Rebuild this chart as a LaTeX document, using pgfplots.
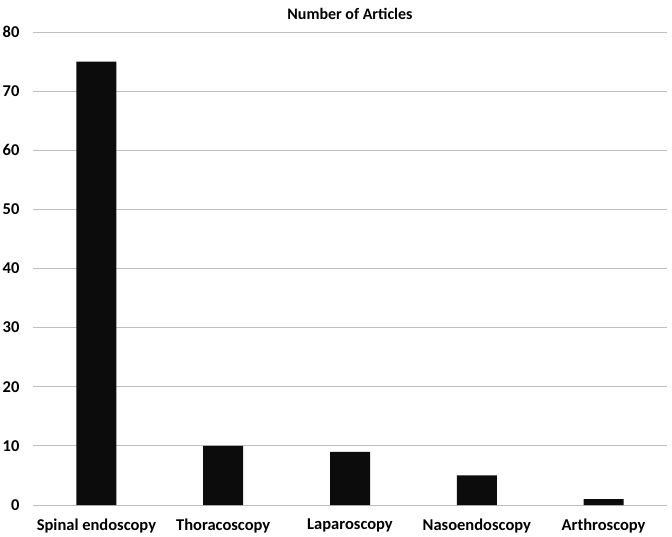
\documentclass[border=0pt]{standalone}
\usepackage{pgfplots}
\pgfplotsset{compat=1.18}
\usepackage{fontspec}
\setmainfont{Carlito}
\definecolor{gridc}{RGB}{191,191,191}
\definecolor{barc}{RGB}{12,12,12}
\begin{document}
\begin{tikzpicture}
\begin{axis}[name=ax,
  scale only axis, width=634pt, height=473pt,
  xmin=-0.5, xmax=4.5, ymin=0, ymax=80,
  ytick={0,10,...,80},
  xtick={0,1,2,3,4},
  xticklabels={Spinal endoscopy,Thoracoscopy,Laparoscopy,Nasoendoscopy,Arthroscopy},
  ymajorgrids, grid style={gridc, line width=0.8pt},
  axis x line*=bottom, axis y line*=left,
  x axis line style={gridc, line width=0.8pt, -},
  y axis line style={draw=none},
  major tick length=0pt,
  ticklabel style={font=\fontsize{16.5}{19}\selectfont\bfseries},
  /pgf/number format/assume math mode=true,
  yticklabel style={xshift=-10pt},
  xticklabel style={yshift=-10pt},
  title={Number of Articles},
  title style={font=\fontsize{16}{19}\selectfont\bfseries, yshift=3pt},
  ybar, bar width=40pt,
]
\addplot[fill=barc, draw=none] coordinates {(0,75) (1,10) (2,9) (3,5) (4,1)};
\end{axis}
\pgfresetboundingbox
\path[use as bounding box] ([xshift=-33pt,yshift=-31pt]ax.south west) rectangle ([xshift=5pt,yshift=32pt]ax.north east);
\end{tikzpicture}
\end{document}
